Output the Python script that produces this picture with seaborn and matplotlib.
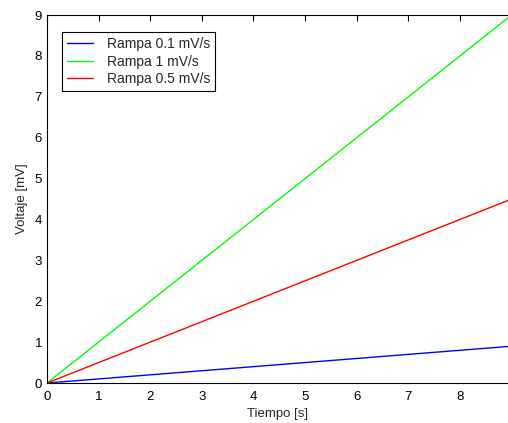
import matplotlib
matplotlib.use("Agg")
import matplotlib.pyplot as plt
import seaborn as sns
import pandas as pd

tiempo = [0, 9]
rampa_01 = [0, 0.9]
rampa_1 = [0, 9]
rampa_05 = [0, 4.5]
labels = ["Rampa 0.1 mV/s", "Rampa 1 mV/s", "Rampa 0.5 mV/s"]
colors = ["#0000ff", "#00ff00", "#ff0000"]

rows = []
for lab, vals in zip(labels, [rampa_01, rampa_1, rampa_05]):
    for t, v in zip(tiempo, vals):
        rows.append({"t": t, "v": v, "serie": lab})
df = pd.DataFrame(rows)

sns.set_theme(style="white")
plt.rcParams['font.family'] = ['Liberation Sans', 'DejaVu Sans']

fig = plt.figure(figsize=(5.08, 4.23), dpi=100)
ax = fig.add_axes([47/508, 40/423, 461/508, 368/423])
sns.lineplot(data=df, x="t", y="v", hue="serie", hue_order=labels,
             palette=colors, linewidth=1.0, ax=ax)

ax.set_xlim(0, 8.93)
ax.set_ylim(0, 9)
ax.set_xticks(range(0, 9))
ax.set_yticks(range(0, 10))
ax.tick_params(direction="in", length=4, top=True, right=False, labelsize=9.5, colors="black", width=0.8)
ax.tick_params(axis="x", pad=6)
for s in ["left", "bottom", "top"]:
    ax.spines[s].set_color("black")
    ax.spines[s].set_linewidth(0.8)
ax.spines["right"].set_visible(False)
ax.set_xlabel("Tiempo [s]", fontsize=9.5, labelpad=3)
ax.set_ylabel("Voltaje [mV]", fontsize=9.5, labelpad=5)

leg = ax.legend(loc="upper left", bbox_to_anchor=(0.032, 0.953), fontsize=10, frameon=True,
                fancybox=False, edgecolor="black", framealpha=1, handlelength=1.9,
                borderpad=0.35, labelspacing=0.25, handletextpad=1.0, borderaxespad=0)
leg.get_frame().set_linewidth(0.8)

fig.savefig("out.png", dpi=100)
